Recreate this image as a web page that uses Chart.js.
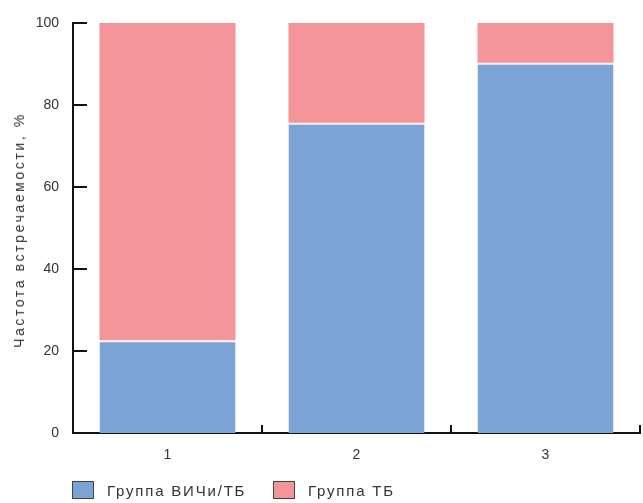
<!DOCTYPE html>
<html>
<head>
<meta charset="utf-8">
<script src="https://cdn.jsdelivr.net/npm/chart.js@4"></script>
<style>
  body { margin: 0; background: #fff; }
  #wrap { position: relative; width: 643px; height: 503px; }
  .leg { position: absolute; top: 481px; font: 15px 'Liberation Sans', Arial, sans-serif; letter-spacing: 1.8px; color: #333; display: flex; align-items: center; }
  .leg span.box { display: inline-block; width: 20px; height: 16px; border: 1.5px solid #444; margin-right: 13px; }
  #ytitle { position: absolute; left: 19px; top: 230px; transform: translate(-50%, -50%) rotate(-90deg); white-space: nowrap;
            font: 14px 'Liberation Sans', Arial, sans-serif; letter-spacing: 2.6px; color: #333; }
</style>
</head>
<body>
<div id="wrap">
  <canvas id="myChart" width="643" height="503"></canvas>
  <div id="ytitle">Частота встречаемости, %</div>
  <div class="leg" style="left:72px"><span class="box" style="background:#7ba3d6"></span>Группа ВИЧи/ТБ</div>
  <div class="leg" style="left:273px"><span class="box" style="background:#f4959a"></span>Группа ТБ</div>
</div>
<script>
// Daten //
const categories = ['1', '2', '3'];
const hivTb = [22.6, 75.7, 90.3];
const tbOnly = [77.4, 24.3, 9.7];
const yTicks = [0, 20, 40, 60, 80, 100];

// Striche nach innen zeichnen
const innerTicks = {
    id: 'innerTicks',
    afterDraw(chart) {
        const ctx = chart.ctx;
        const x = chart.scales.x;
        const y = chart.scales.y;
        ctx.save();
        ctx.strokeStyle = '#111';
        ctx.lineWidth = 2;
        yTicks.forEach(v => {
            const py = Math.round(y.getPixelForValue(v));
            ctx.beginPath();
            ctx.moveTo(x.left, py);
            ctx.lineTo(x.left + 14, py);
            ctx.stroke();
        });
        const half = (x.getPixelForValue(1) - x.getPixelForValue(0)) / 2;
        categories.forEach((c, i) => {
            const px = Math.round(x.getPixelForValue(i) + half);
            ctx.beginPath();
            ctx.moveTo(px, y.bottom);
            ctx.lineTo(px, y.bottom - 8);
            ctx.stroke();
        });
        ctx.restore();
    }
};

const font = { family: "'Liberation Sans', Arial, sans-serif", size: 14 };

new Chart(document.getElementById('myChart'), {
    type: 'bar',
    data: {
        labels: categories,
        datasets: [{
            label: 'Группа ВИЧи/ТБ',
            data: hivTb,
            backgroundColor: '#7ba3d6',
            borderColor: '#fbeef0',
            borderWidth: { top: 2, left: 0, right: 0, bottom: 0 },
            borderSkipped: false
        }, {
            label: 'Группа ТБ',
            data: tbOnly,
            backgroundColor: '#f4959a',
            borderWidth: 0
        }]
    },
    options: {
        responsive: false,
        animation: false,
        layout: { padding: { top: 23, right: 3, left: 0, bottom: 0 } },
        plugins: { legend: { display: false }, tooltip: { enabled: false } },
        scales: {
            x: {
                stacked: true,
                categoryPercentage: 1,
                barPercentage: 0.72,
                grid: { display: false },
                border: { display: true, color: '#111', width: 2 },
                ticks: { color: '#333', font: font, padding: 6 },
                afterFit: s => { s.height = 70 }
            },
            y: {
                stacked: true,
                min: 0,
                max: 100,
                grid: { display: false },
                border: { display: true, color: '#111', width: 2 },
                ticks: { stepSize: 20, color: '#333', font: font, padding: 6 },
                afterFit: s => { s.width = 73 }
            }
        }
    },
    plugins: [innerTicks]
});
</script>
</body>
</html>
